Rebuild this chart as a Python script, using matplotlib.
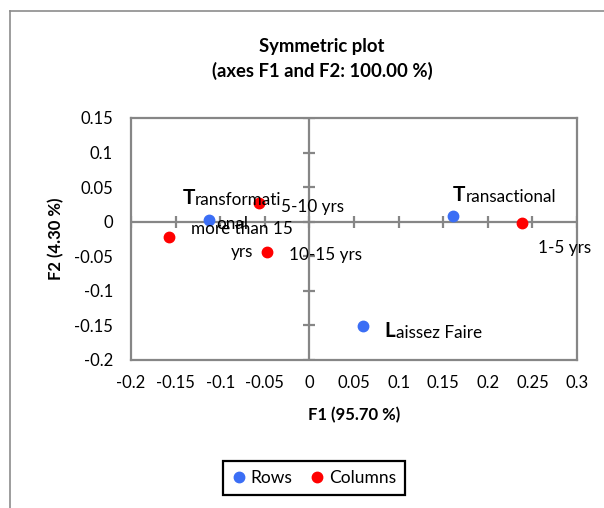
import matplotlib
matplotlib.use('Agg')
import matplotlib.pyplot as plt
from matplotlib.lines import Line2D

plt.rcParams['font.family'] = ['Lato', 'DejaVu Sans']

# axis ticks
f1_ticks = [-0.2, -0.15, -0.1, -0.05, 0, 0.05, 0.1, 0.15, 0.2, 0.25, 0.3]
f1_labels = ['-0.2', '-0.15', '-0.1', '-0.05', '0', '0.05', '0.1', '0.15', '0.2', '0.25', '0.3']
f2_ticks = [-0.2, -0.15, -0.1, -0.05, 0, 0.05, 0.1, 0.15]
f2_labels = ['-0.2', '-0.15', '-0.1', '-0.05', '0', '0.05', '0.1', '0.15']

# rows (leadership styles)
row_names = ['Transformati\nonal', 'Transactional', 'Laissez Faire']
row_f1 = [-0.112, 0.161, 0.060]
row_f2 = [0.003, 0.008, -0.151]

# columns (experience)
col_names = ['5-10 yrs', 'more than 15\nyrs', '10-15 yrs', '1-5 yrs']
col_f1 = [-0.057, -0.157, -0.047, 0.238]
col_f2 = [0.027, -0.022, -0.044, -0.002]

blue = '#3b6ef5'
red = '#ff0000'
gray = '#868686'

fig = plt.figure(figsize=(6.04, 5.08), dpi=100)
ax = fig.add_axes([131 / 604, 1 - 360 / 508, 446 / 604, 242 / 508])

ax.set_xlim(-0.2, 0.3)
ax.set_ylim(-0.2, 0.15)
ax.set_xticks(f1_ticks)
ax.set_xticklabels(f1_labels)
ax.set_yticks(f2_ticks)
ax.set_yticklabels(f2_labels)
ax.tick_params(length=0, labelsize=12)
ax.tick_params(axis='x', pad=11)
ax.tick_params(axis='y', pad=13)
for s in ax.spines.values():
    s.set_color(gray)
    s.set_linewidth(1.6)

# axes through the origin with cross ticks
ax.axhline(0, color=gray, lw=1.6, zorder=1)
ax.axvline(0, color=gray, lw=1.6, zorder=1)
ax.plot(f1_ticks, [0] * len(f1_ticks), ls='none', marker='|', ms=8, mew=1.6, color=gray, zorder=1)
ax.plot([0] * len(f2_ticks), f2_ticks, ls='none', marker='_', ms=8, mew=1.6, color=gray, zorder=1)

ax.plot(row_f1, row_f2, ls='none', marker='o', ms=7.5, color=blue, zorder=3)
ax.plot(col_f1, col_f2, ls='none', marker='o', ms=7.5, color=red, zorder=3)

# row labels: big bold first letter
row_offsets = [(-19.5, 11.5), (0, 10.8), (15.8, -7.9)]
for name, x, y, (dx, dy) in zip(row_names, row_f1, row_f2, row_offsets):
    lines = name.split('\n')
    first = ax.annotate(lines[0][0], (x, y), xytext=(dx, dy), textcoords='offset points',
                        fontsize=15, fontweight='bold', ha='left', va='baseline', zorder=4)
    rest = ax.annotate(lines[0][1:], xy=(1, 0), xycoords=first, fontsize=12.3,
                       ha='left', va='bottom', zorder=4)
    for extra in lines[1:]:
        ax.annotate(extra, xy=(0.5, 0), xycoords=rest, xytext=(-4, -15),
                    textcoords='offset points', fontsize=12.3, ha='center', va='baseline', zorder=4)

col_offsets = [(15.8, -6.5), (15.8, -14.4), (15.8, -5.8), (11.5, -21.6)]
for name, x, y, (dx, dy) in zip(col_names, col_f1, col_f2, col_offsets):
    ax.annotate(name, (x, y), xytext=(dx, dy), textcoords='offset points', fontsize=12.3,
                ha='left', va='baseline', multialignment='center', linespacing=1.5, zorder=4)

fig.text(322 / 604, 1 - 59 / 508, 'Symmetric plot\n(axes F1 and F2: 100.00 %)', ha='center', va='center',
         fontsize=13.3, fontweight='bold', linespacing=1.45)
ax.set_xlabel('F1 (95.70 %)', fontsize=12, fontweight='bold')
ax.set_ylabel('F2 (4.30 %)', fontsize=12, fontweight='bold')
ax.xaxis.set_label_coords(0.5, (360 - 407) / 242)
ax.yaxis.set_label_coords((64 - 131) / 446, 0.5)

handles = [Line2D([], [], ls='none', marker='o', ms=7.5, color=blue),
           Line2D([], [], ls='none', marker='o', ms=7.5, color=red)]
leg = fig.legend(handles, ['Rows', 'Columns'], loc='center', bbox_to_anchor=(314 / 604, 1 - 478 / 508),
                 ncol=2, fancybox=False, framealpha=1, edgecolor='black', fontsize=12.5,
                 handlelength=0.8, handletextpad=0.3, columnspacing=1.0, borderpad=0.5)
leg.get_frame().set_linewidth(1.6)

# outer chart border (left and top only visible)
fig.add_artist(Line2D([10 / 604, 10 / 604], [0, 1 - 11 / 508], transform=fig.transFigure, color='#8c8c8c', lw=1.2))
fig.add_artist(Line2D([10 / 604, 1], [1 - 11 / 508, 1 - 11 / 508], transform=fig.transFigure, color='#8c8c8c', lw=1.2))

fig.savefig('out.png', dpi=100)
